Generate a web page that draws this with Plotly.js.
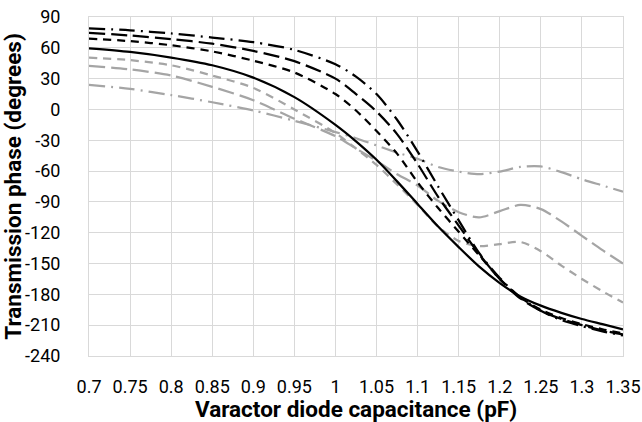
<!DOCTYPE html>
<html>
<head>
<meta charset="utf-8">
<script src="https://cdn.plot.ly/plotly-3.0.1.min.js"></script>
<style>
  html, body { margin: 0; padding: 0; background: #ffffff; }
  #chart { width: 642px; height: 422px; }
</style>
</head>
<body>
<div id="chart"></div>
<script>
// Capacitance (pF)
const capacitance = [0.7, 0.75, 0.8, 0.85, 0.9, 0.95, 1.0, 1.025, 1.05, 1.075, 1.1, 1.125, 1.15, 1.175, 1.2, 1.225, 1.25, 1.275, 1.3, 1.325, 1.35];

// Transmission phase (degrees), black series
const blackDashDot = [79, 77, 74, 70, 65.5, 58, 44, 32, 15, -10, -41, -75, -108, -140, -164, -183, -196, -205, -211, -216, -220];
const blackLongDash = [74.5, 72, 68.5, 64, 57, 47, 30, 15, -2, -24, -53, -85, -113, -141, -165, -184, -196, -204, -210, -215, -219];
const blackDash = [69, 66.5, 62.5, 56.5, 47.5, 36, 15, -1, -21, -43, -71, -96, -119, -142, -165, -183, -195, -203, -209, -214, -218];
const blackSolid = [59.5, 56, 50.5, 43, 31, 12, -15, -31, -49, -70, -92, -114, -134, -153, -169, -182, -191, -198, -204, -209, -214];

// Transmission phase (degrees), gray series
const grayDash = [50.5, 48, 43, 33, 21, 0, -23, -38, -54, -73, -93, -114, -128, -133, -131, -129, -138, -152, -165, -177, -188];
const grayLongDash = [42.5, 39, 33, 22, 9, -9, -26, -38, -50, -63, -74, -89, -100, -105, -99, -93, -97, -109, -123, -137, -150];
const grayDashDot = [24, 20, 14, 7, -1, -11, -22, -28, -35, -42, -48, -56, -60.5, -63, -60.5, -56, -55.5, -61, -68, -74, -80];

// Axis ticks
const xTickVals = [0.7, 0.75, 0.8, 0.85, 0.9, 0.95, 1.0, 1.05, 1.1, 1.15, 1.2, 1.25, 1.3, 1.35];
const xTickText = ["0.7", "0.75", "0.8", "0.85", "0.9", "0.95", "1", "1.05", "1.1", "1.15", "1.2", "1.25", "1.3", "1.35"];
const yTickVals = [-240, -210, -180, -150, -120, -90, -60, -30, 0, 30, 60, 90];
const yTickText = ["-240", "-210", "-180", "-150", "-120", "-90", "-60", "-30", "0", "30", "60", "90"];

const BLACK = "#000000";
const GRAY = "#a5a5a5";
const DASH_DOT = "16px,6px,2px,6px";
const LONG_DASH = "16px,6px";
const DASH = "8px,6px";

function series(y, color, dash) {
  return {
    type: "scatter",
    mode: "lines",
    x: capacitance,
    y: y,
    line: { color: color, width: 2.25, dash: dash, shape: "spline", smoothing: 0.8 },
    hoverinfo: "skip",
    showlegend: false
  };
}

const data = [
  series(grayDashDot, GRAY, DASH_DOT),
  series(grayLongDash, GRAY, LONG_DASH),
  series(grayDash, GRAY, DASH),
  series(blackSolid, BLACK, "solid"),
  series(blackDash, BLACK, DASH),
  series(blackLongDash, BLACK, LONG_DASH),
  series(blackDashDot, BLACK, DASH_DOT)
];

const FONT = "Roboto, 'Liberation Sans', sans-serif";

const layout = {
  width: 642,
  height: 422,
  margin: { l: 89, r: 19, t: 17, b: 66 },
  paper_bgcolor: "#ffffff",
  plot_bgcolor: "#ffffff",
  font: { family: FONT, color: "#000000", size: 18 },
  xaxis: {
    range: [0.7, 1.35],
    tickmode: "array",
    tickvals: xTickVals,
    ticktext: xTickText,
    showgrid: true,
    gridcolor: "#d9d9d9",
    gridwidth: 1,
    zeroline: false,
    showline: true,
    linecolor: "#d9d9d9",
    linewidth: 1,
    mirror: true,
    ticks: "",
    ticklabelstandoff: 14,
    tickfont: { family: FONT, size: 18, color: "#000000" },
    title: { text: "Varactor diode capacitance (pF)", font: { family: FONT, size: 22.5, color: "#000000", weight: "bold" }, standoff: 4 }
  },
  yaxis: {
    range: [-240, 90],
    tickmode: "array",
    tickvals: yTickVals,
    ticktext: yTickText,
    showgrid: true,
    gridcolor: "#d9d9d9",
    gridwidth: 1,
    zeroline: false,
    showline: true,
    linecolor: "#d9d9d9",
    linewidth: 1,
    mirror: true,
    ticks: "",
    ticklabelstandoff: 24,
    tickfont: { family: FONT, size: 18, color: "#000000" },
    title: { text: "Transmission phase (degrees)", font: { family: FONT, size: 22.5, color: "#000000", weight: "bold" }, standoff: 4 }
  }
};

Plotly.newPlot("chart", data, layout, { staticPlot: true, displayModeBar: false });
</script>
</body>
</html>
